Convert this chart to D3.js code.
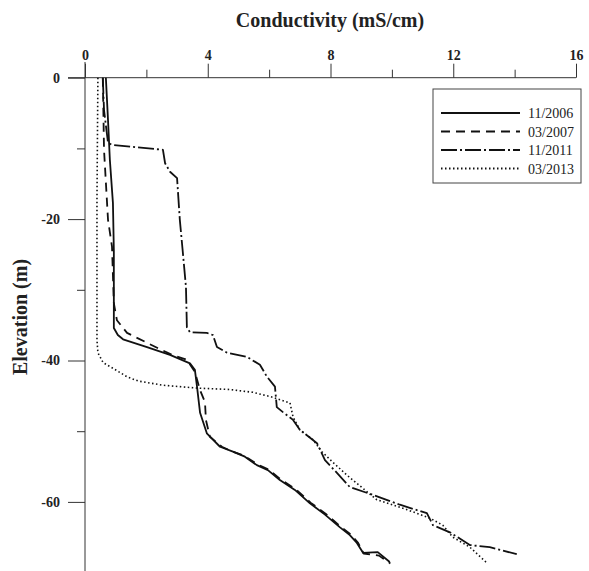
<!DOCTYPE html>
<html>
<head>
<meta charset="utf-8">
<script src="https://cdn.jsdelivr.net/npm/d3@7.9.0/dist/d3.min.js"></script>
<style>
  body { margin: 0; background: #fff; }
  svg { display: block; font-family: "Liberation Serif", "Times New Roman", serif; }
</style>
</head>
<body>
<svg id="chart" width="589" height="571"></svg>
<script>
// conductivity (mS/cm) and elevation (m)
const labels = ['11/2006', '03/2007', '11/2011', '03/2013'];

const cond2006 = [0.68, 0.75, 0.81, 0.91, 0.94, 0.94, 0.94, 1.07, 1.24, 2.02, 2.77, 3.42, 3.58, 3.65, 3.75, 3.97, 4.40, 4.82, 5.21, 5.60, 5.96, 6.35, 6.84, 7.33, 7.82, 8.31, 8.63, 8.86, 9.06, 9.54, 9.93];
const elev2006 = [0, -6.0, -11.6, -17.7, -24.4, -34.7, -35.4, -36.4, -37.0, -38.1, -39.2, -40.4, -41.3, -43.7, -47.4, -50.3, -52.2, -52.9, -53.6, -54.8, -55.5, -56.9, -58.3, -60.2, -61.8, -63.6, -64.7, -65.8, -67.2, -67.1, -68.5];

const cond2007 = [0.58, 0.62, 0.75, 0.88, 0.94, 1.04, 1.37, 2.35, 2.83, 3.32, 3.58, 3.75, 3.91, 3.94, 4.07, 4.46, 4.82, 5.20, 5.62, 5.98, 6.37, 6.86, 7.35, 7.85, 8.33, 8.66, 8.90, 9.08, 9.58, 9.95];
const elev2007 = [0, -10.2, -20.1, -23.9, -31.9, -34.3, -36.1, -38.2, -39.2, -39.9, -41.6, -44.2, -45.9, -48.4, -50.8, -52.2, -52.9, -53.5, -54.7, -55.4, -56.8, -58.2, -60.1, -61.7, -63.5, -64.6, -65.8, -67.3, -67.6, -68.7];

const cond2011 = [0.58, 0.62, 0.75, 0.88, 2.54, 2.61, 2.77, 3.00, 3.09, 3.19, 3.29, 3.32, 3.42, 3.97, 4.17, 4.30, 4.63, 5.28, 5.70, 5.93, 6.19, 6.25, 6.45, 6.78, 7.00, 7.56, 7.82, 8.21, 8.63, 9.38, 10.26, 11.14, 11.34, 11.89, 12.54, 13.19, 14.07];
const elev2011 = [0, -4.6, -9.2, -9.5, -10.2, -12.1, -13.3, -14.2, -20.1, -24.8, -29.6, -35.3, -36.0, -36.1, -36.4, -38.1, -38.9, -39.5, -40.6, -42.3, -43.7, -46.6, -47.3, -48.4, -49.8, -51.7, -54.1, -55.9, -57.9, -59.0, -60.4, -61.6, -63.3, -64.3, -66.1, -66.4, -67.4];

const cond2013 = [0.42, 0.39, 0.39, 0.42, 0.59, 0.91, 1.37, 1.73, 2.54, 3.65, 4.72, 5.47, 6.12, 6.68, 6.78, 7.00, 7.43, 7.72, 8.08, 8.53, 9.51, 10.49, 11.24, 11.66, 11.99, 12.54, 13.09];
const elev2013 = [0, -17.3, -37.1, -38.9, -40.3, -41.1, -42.3, -42.9, -43.5, -43.9, -44.1, -44.5, -45.2, -46.0, -48.0, -49.8, -51.2, -52.9, -54.4, -56.2, -59.7, -61.1, -62.3, -63.3, -65.0, -66.4, -68.6];

const xMajor = [0, 4, 8, 12, 16];
const xMinor = [2, 6, 10, 14];
const yMajor = [0, -20, -40, -60];
const yMinor = [-10, -30, -50, -70];

const series = [
  { label: labels[0], cond: cond2006, elev: elev2006, dash: null },
  { label: labels[1], cond: cond2007, elev: elev2007, dash: '9,6' },
  { label: labels[2], cond: cond2011, elev: elev2011, dash: '16,3,2,3' },
  { label: labels[3], cond: cond2013, elev: elev2013, dash: '1.5,2.5' }
];

const svg = d3.select('#chart');

const x = d3.scaleLinear().domain([0, 16]).range([85, 576]);
const y = d3.scaleLinear().domain([0, -70]).range([77.7, 572.6]);

// axis lines
svg.append('line')
  .attr('x1', 68).attr('x2', x(16))
  .attr('y1', y(0)).attr('y2', y(0))
  .attr('stroke', '#333').attr('stroke-width', 1);
svg.append('line')
  .attr('x1', x(0)).attr('x2', x(0))
  .attr('y1', 62).attr('y2', 571)
  .attr('stroke', '#333').attr('stroke-width', 1);

// plain hyphen minus like the original
const fmt = d => String(d);

function styleAxis(g) {
  g.selectAll('.domain').remove();
  g.selectAll('.tick line').attr('stroke', '#333');
  g.selectAll('.tick text')
    .attr('fill', '#222')
    .attr('font-family', '"Liberation Serif", "Times New Roman", serif')
    .attr('font-size', 14)
    .attr('font-weight', 'bold');
}

// x ticks (top)
const gx = svg.append('g').attr('transform', `translate(0,${y(0)})`);
gx.call(d3.axisTop(x).tickValues(xMajor).tickSize(14).tickPadding(4).tickFormat(fmt));
gx.append('g').call(d3.axisTop(x).tickValues(xMinor).tickSize(8).tickFormat(''));
styleAxis(gx);

// y ticks (left)
const gy = svg.append('g').attr('transform', `translate(${x(0)},0)`);
gy.call(d3.axisLeft(y).tickValues(yMajor).tickSize(17).tickPadding(8).tickFormat(fmt));
gy.append('g').call(d3.axisLeft(y).tickValues(yMinor).tickSize(8).tickFormat(''));
styleAxis(gy);

// titles
svg.append('text')
  .attr('x', 330).attr('y', 27)
  .attr('text-anchor', 'middle')
  .attr('font-size', 20).attr('font-weight', 'bold').attr('fill', '#222')
  .text('Conductivity (mS/cm)');

svg.append('text')
  .attr('transform', 'translate(27,317) rotate(-90)')
  .attr('text-anchor', 'middle')
  .attr('font-size', 20).attr('font-weight', 'bold').attr('fill', '#222')
  .text('Elevation (m)');

// profiles
const line = d3.line()
  .x(d => x(d[0]))
  .y(d => y(d[1]));

series.forEach(s => {
  const pts = s.cond.map((c, i) => [c, s.elev[i]]);
  svg.append('path')
    .attr('d', line(pts))
    .attr('fill', 'none')
    .attr('stroke', '#111')
    .attr('stroke-width', s.dash === '1.5,2.5' ? 1.6 : 1.8)
    .attr('stroke-dasharray', s.dash)
    .attr('stroke-linejoin', 'round');
});

// legend
const legend = svg.append('g');
legend.append('rect')
  .attr('x', 433).attr('y', 89)
  .attr('width', 148).attr('height', 94)
  .attr('fill', '#fff').attr('stroke', '#444').attr('stroke-width', 1);

series.forEach((s, i) => {
  const ly = 113 + i * 18.5;
  legend.append('line')
    .attr('x1', 441).attr('x2', 520)
    .attr('y1', ly).attr('y2', ly)
    .attr('stroke', '#111')
    .attr('stroke-width', 1.8)
    .attr('stroke-dasharray', s.dash);
  legend.append('text')
    .attr('x', 528).attr('y', ly + 5)
    .attr('font-size', 14).attr('fill', '#222')
    .text(s.label);
});
</script>
</body>
</html>
